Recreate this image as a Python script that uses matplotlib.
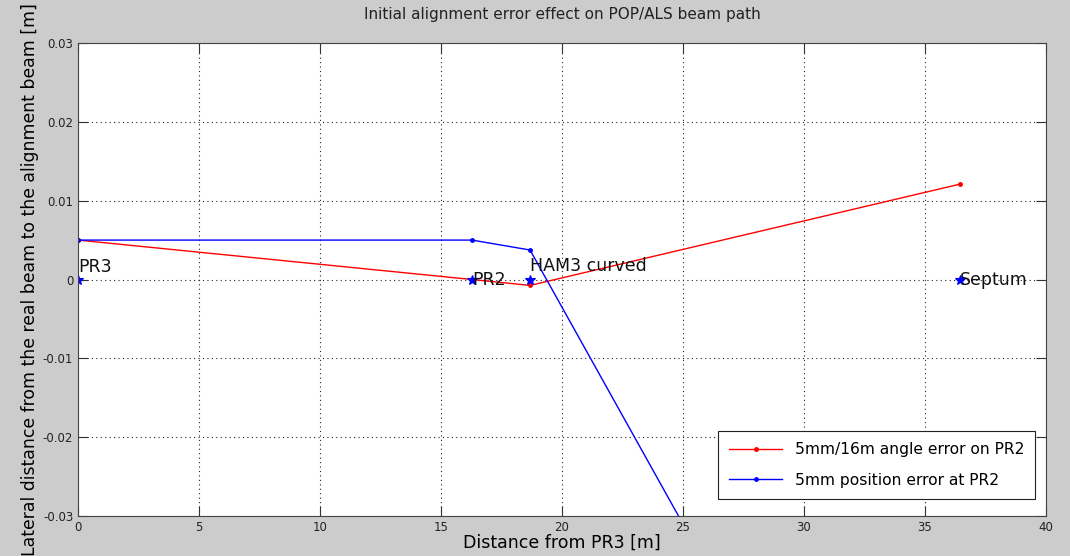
import matplotlib
matplotlib.use('Agg')
import matplotlib.pyplot as plt
from matplotlib.ticker import FuncFormatter

# optic positions along the beam [m]
optics = ['PR3', 'PR2', 'HAM3 curved', 'Septum']
optic_x = [0.0, 16.28, 18.68, 36.45]
optic_y = [0.0, 0.0, 0.0, 0.0]
label_y = [0.0016, 0.0, 0.0017, 0.0]

# beam offsets [m]
angle_err = [0.005, 0.0, -0.00075, 0.0121]
pos_err = [0.005, 0.005, 0.00374, -0.094]

plt.rcParams['font.family'] = 'DejaVu Sans'

fig = plt.figure(figsize=(10.7, 5.56), dpi=100, facecolor='#cccccc')
ax = fig.add_axes([0.0729, 0.0719, 0.9047, 0.8508])

ax.plot(optic_x, angle_err, 'r.-', lw=1, ms=5, label='5mm/16m angle error on PR2')
ax.plot(optic_x, pos_err, 'b.-', lw=1, ms=5, label='5mm position error at PR2')
ax.plot(optic_x, optic_y, 'b*', ms=7, mew=0.8)
for name, x, y in zip(optics, optic_x, label_y):
    ax.text(x, y, name, fontsize=12.5, va='center', ha='left', color='#111111')

ax.set_xlim(0, 40)
ax.set_ylim(-0.03, 0.03)
ax.set_xticks(range(0, 41, 5))
ax.set_yticks([-0.03, -0.02, -0.01, 0, 0.01, 0.02, 0.03])
ax.yaxis.set_major_formatter(FuncFormatter(lambda v, p: '%g' % round(v, 4)))
ax.grid(True, color='#222222', ls=(0, (1, 3)), lw=0.8)
ax.tick_params(direction='in', top=True, right=True, length=7, labelsize=8.5,
               color='#333333', labelcolor='#222222')
for s in ax.spines.values():
    s.set_color('#444444')

ax.set_title('Initial alignment error effect on POP/ALS beam path', fontsize=11,
             color='#222222', pad=17)
ax.set_xlabel('Distance from PR3 [m]', fontsize=12.5, labelpad=0)
ax.set_ylabel('Lateral distance from the real beam to the alignment beam [m]',
              fontsize=12.4, labelpad=3)

leg = ax.legend(loc='lower right', bbox_to_anchor=(0.9965, 0.02), fontsize=11.2,
                fancybox=False, framealpha=1, edgecolor='#222222',
                handlelength=3.4, borderpad=0.7, labelspacing=1.0)
leg.get_frame().set_linewidth(0.8)

fig.savefig('out.png', dpi=100, facecolor=fig.get_facecolor())
